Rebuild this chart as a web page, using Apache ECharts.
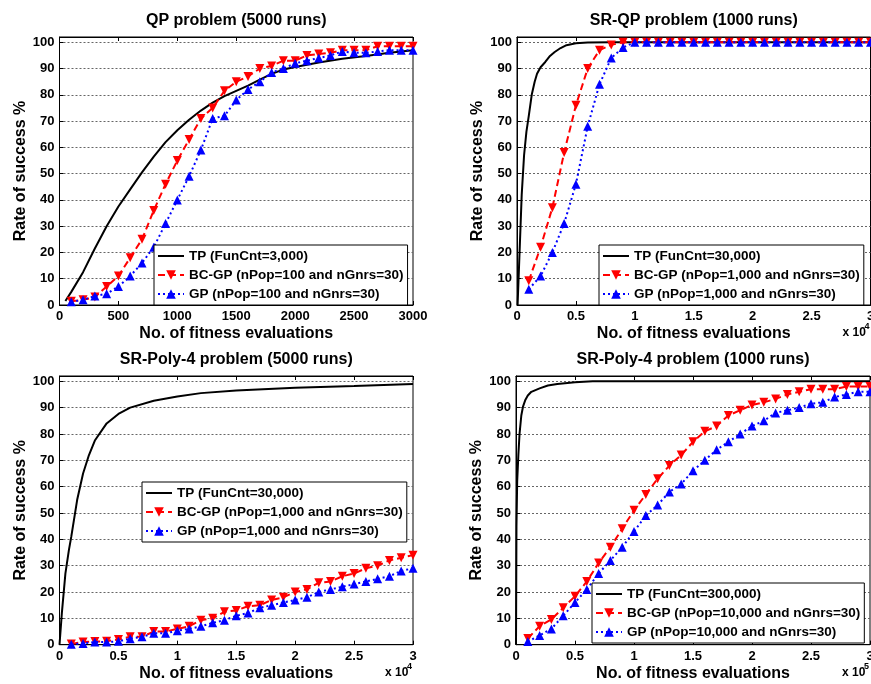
<!DOCTYPE html>
<html>
<head>
<meta charset="utf-8">
<script src="https://cdn.jsdelivr.net/npm/echarts@6/dist/echarts.min.js"></script>
<style>
html, body { margin: 0; padding: 0; background: #fff; }
#main { width: 871px; height: 684px; }
</style>
</head>
<body>
<div id="main"></div>
<script>
// ---- data ----
var titles = ['QP problem (5000 runs)', 'SR-QP problem (1000 runs)', 'SR-Poly-4 problem (5000 runs)', 'SR-Poly-4 problem (1000 runs)'];
var xName = 'No. of fitness evaluations';
var yName = 'Rate of success %';
var xScaleExp = [null, '4', '4', '5'];

var tpNames = ['TP (FunCnt=3,000)', 'TP (FunCnt=30,000)', 'TP (FunCnt=30,000)', 'TP (FunCnt=300,000)'];
var bcNames = ['BC-GP (nPop=100 and nGnrs=30)', 'BC-GP (nPop=1,000 and nGnrs=30)', 'BC-GP (nPop=1,000 and nGnrs=30)', 'BC-GP (nPop=10,000 and nGnrs=30)'];
var gpNames = ['GP (nPop=100 and nGnrs=30)', 'GP (nPop=1,000 and nGnrs=30)', 'GP (nPop=1,000 and nGnrs=30)', 'GP (nPop=10,000 and nGnrs=30)'];

// marker positions
var evalsQP = [100, 200, 300, 400, 500, 600, 700, 800, 900, 1000, 1100, 1200, 1300, 1400, 1500,
               1600, 1700, 1800, 1900, 2000, 2100, 2200, 2300, 2400, 2500, 2600, 2700, 2800, 2900, 3000];
var evalsScaled = [0.1, 0.2, 0.3, 0.4, 0.5, 0.6, 0.7, 0.8, 0.9, 1.0, 1.1, 1.2, 1.3, 1.4, 1.5,
                   1.6, 1.7, 1.8, 1.9, 2.0, 2.1, 2.2, 2.3, 2.4, 2.5, 2.6, 2.7, 2.8, 2.9, 3.0];

// QP problem
var tp1X = [50, 100, 200, 300, 400, 500, 600, 700, 800, 900, 1000, 1100, 1200, 1300, 1400, 1500, 1600, 1700, 1800, 1900, 2000, 2200, 2400, 2600, 2800, 3000];
var tp1Y = [1.5, 5, 12.5, 21.5, 30, 37.5, 44, 50.5, 56.5, 62, 66.5, 70.5, 74, 77, 79.5, 81.5, 83.5, 85.8, 88, 89.6, 90.6, 92.3, 93.7, 94.8, 96, 97];
var bc1 = [1.4, 2, 3, 7, 11, 18, 25, 36, 46, 55, 63, 71, 75, 81.5, 85, 87, 90, 91, 93, 93, 95, 95.5, 96, 97, 97, 97, 98.5, 98.5, 98.5, 98.5];
var gp1 = [1.2, 2, 3.4, 4.3, 7, 11, 16, 22, 31, 40, 49, 59, 71, 72, 78, 82, 85, 88.5, 90, 92, 93, 94, 95, 96.5, 96, 96, 96.5, 97, 97, 97];

// SR-QP problem (x 10^4)
var tp2X = [0.005, 0.02, 0.04, 0.06, 0.08, 0.1, 0.125, 0.15, 0.17, 0.2, 0.24, 0.28, 0.32, 0.37, 0.42, 0.5, 0.6, 0.8, 3];
var tp2Y = [0, 18, 42, 57, 66, 72, 80, 85, 88, 90.5, 92.5, 94.8, 96.3, 97.8, 98.9, 99.6, 99.9, 100, 100];
var bc2 = [9.2, 22, 37, 58, 76, 90, 97, 99, 100, 100, 100, 100, 100, 100, 100,
           100, 100, 100, 100, 100, 100, 100, 100, 100, 100, 100, 100, 100, 100, 100];
var gp2 = [6, 11, 20, 31, 46, 68, 84, 94, 98, 100, 100, 100, 100, 100, 100,
           100, 100, 100, 100, 100, 100, 100, 100, 100, 100, 100, 100, 100, 100, 100];

// SR-Poly-4 problem, 5000 runs (x 10^4)
var tp3X = [0, 0.02, 0.05, 0.08, 0.1, 0.15, 0.2, 0.25, 0.3, 0.4, 0.5, 0.6, 0.8, 1.0, 1.2, 1.5, 2.0, 2.5, 3.0];
var tp3Y = [0, 12, 27, 36, 41, 55, 65, 72, 77.5, 84, 87.6, 90, 92.6, 94.2, 95.5, 96.5, 97.5, 98.2, 99];
var bc3 = [0.3, 1, 1.2, 1.3, 2, 3, 3, 5, 5, 6, 7, 9.3, 10, 12.5, 13, 14.6, 15, 17, 18, 20,
           21, 23.5, 24, 26, 27, 29, 30, 32, 33, 34];
var gp3 = [0.2, 0.5, 1, 1, 1.3, 2.3, 3, 4.3, 4.3, 5.3, 6, 7, 8.3, 9.3, 11, 12, 14, 15, 16, 17,
           18, 20, 21, 22, 23, 24, 25, 26, 28, 29];

// SR-Poly-4 problem, 1000 runs (x 10^5)
var tp4X = [0, 0.004, 0.01, 0.02, 0.03, 0.045, 0.06, 0.08, 0.1, 0.13, 0.2, 0.27, 0.35, 0.5, 0.65, 3];
var tp4Y = [0, 45, 62, 72, 80, 87, 90.5, 93, 94.6, 96, 97.3, 98.4, 99, 99.6, 100, 100];
var bc4 = [2.4, 7, 9.6, 14, 18.4, 24, 31, 37, 44, 51, 57, 63, 68, 72, 77, 81, 83, 87, 89, 91,
           92, 93.3, 95, 96, 97, 97, 97, 98, 98, 98];
var gp4 = [1.2, 3.5, 6, 11, 16, 21, 27, 32, 37, 43, 49, 53, 58, 61, 66, 70, 74, 77, 80, 83,
           85, 88, 89, 90, 91.5, 92, 94, 95, 96, 96];

var tpX = [tp1X, tp2X, tp3X, tp4X];
var tpY = [tp1Y, tp2Y, tp3Y, tp4Y];
var bcY = [bc1, bc2, bc3, bc4];
var gpY = [gp1, gp2, gp3, gp4];
var markX = [evalsQP, evalsScaled, evalsScaled, evalsScaled];

// ---- layout ----
var FONT = '"Liberation Sans", Arial, sans-serif';
var grids = [
    { left: 59.5, top: 37, width: 353.5, height: 268 },
    { left: 517, top: 37, width: 353.5, height: 268 },
    { left: 59.5, top: 376, width: 353.5, height: 268.7 },
    { left: 516, top: 376, width: 354, height: 268.7 }
];
var xRanges = [[0, 3000, 500], [0, 3, 0.5], [0, 3, 0.5], [0, 3, 0.5]];
var legendPos = [[154, 245], [599, 245], [142, 482], [592, 583]];

function pairs(xs, ys) {
    return xs.map(function (x, i) { return [x, ys[i]]; });
}

var option = {
    backgroundColor: '#fff',
    animation: false,
    title: [],
    grid: [],
    xAxis: [],
    yAxis: [],
    legend: [],
    series: [],
    graphic: []
};

grids.forEach(function (g, i) {
    option.grid.push({
        left: g.left, top: g.top, width: g.width, height: g.height,
        show: true, borderColor: '#000', borderWidth: 1, backgroundColor: '#fff',
        containLabel: false, outerBoundsMode: 'none'
    });
    option.title.push({
        text: titles[i],
        left: g.left + g.width / 2,
        top: g.top - 24,
        textAlign: 'center',
        padding: 0,
        textStyle: { fontFamily: FONT, fontSize: 16, fontWeight: 'bold', color: '#000' }
    });
    var r = xRanges[i];
    option.xAxis.push({
        type: 'value', gridIndex: i, position: 'bottom',
        min: r[0], max: r[1], interval: r[2],
        name: xName, nameLocation: 'middle', nameGap: 21,
        nameTextStyle: { fontFamily: FONT, fontSize: 16, fontWeight: 'bold', color: '#000' },
        axisLine: { show: true, lineStyle: { color: '#000', width: 1 } },
        axisTick: { show: true, inside: true, length: 4, lineStyle: { color: '#000' } },
        axisLabel: {
            margin: 5, fontFamily: FONT, fontSize: 13, fontWeight: 'bold', color: '#000',
            formatter: function (v) { return String(v); }
        },
        splitLine: { show: false }
    });
    option.xAxis.push({
        type: 'value', gridIndex: i, position: 'top',
        min: r[0], max: r[1], interval: r[2],
        axisLine: { show: true, lineStyle: { color: '#000', width: 1 } },
        axisTick: { show: true, inside: true, length: 4, lineStyle: { color: '#000' } },
        axisLabel: { show: false },
        splitLine: { show: false }
    });
    option.yAxis.push({
        type: 'value', gridIndex: i,
        min: 0, max: 102, interval: 10,
        name: yName, nameLocation: 'middle', nameGap: 31,
        nameTextStyle: { fontFamily: FONT, fontSize: 16, fontWeight: 'bold', color: '#000' },
        axisLine: { show: true, lineStyle: { color: '#000', width: 1 } },
        axisTick: { show: true, inside: true, length: 4, lineStyle: { color: '#000' } },
        axisLabel: {
            margin: 5, fontFamily: FONT, fontSize: 13, fontWeight: 'bold', color: '#000',
            formatter: function (v) { return v > 100 ? '' : String(v); }
        },
        splitLine: { show: true, lineStyle: { color: '#666', width: 1, type: [2, 2] } }
    });

    option.series.push({
        name: tpNames[i], type: 'line', xAxisIndex: i * 2, yAxisIndex: i,
        data: pairs(tpX[i], tpY[i]),
        symbol: 'none',
        lineStyle: { color: '#000', width: 2 }, itemStyle: { color: '#000' }, z: 3
    });
    option.series.push({
        name: bcNames[i], type: 'line', xAxisIndex: i * 2, yAxisIndex: i,
        data: pairs(markX[i], bcY[i]),
        symbol: 'triangle', symbolRotate: 180, symbolSize: 9, showAllSymbol: true,
        lineStyle: { color: '#ff0000', width: 2, type: [7, 4] }, itemStyle: { color: '#ff0000' }, z: 4
    });
    option.series.push({
        name: gpNames[i], type: 'line', xAxisIndex: i * 2, yAxisIndex: i,
        data: pairs(markX[i], gpY[i]),
        symbol: 'triangle', symbolSize: 9, showAllSymbol: true,
        lineStyle: { color: '#0000ff', width: 2, type: [2, 3] }, itemStyle: { color: '#0000ff' }, z: 5
    });

    option.legend.push({
        orient: 'vertical', left: legendPos[i][0], top: legendPos[i][1],
        data: [
            { name: tpNames[i], itemStyle: { opacity: 0 } },
            bcNames[i],
            gpNames[i]
        ],
        selectedMode: false,
        backgroundColor: '#fff', borderColor: '#000', borderWidth: 1, borderRadius: 0,
        padding: [4, 4, 4, 3], itemWidth: 26, itemHeight: 12, itemGap: 5,
        textStyle: { fontFamily: FONT, fontSize: 13.5, fontWeight: 'bold', color: '#000' },
        z: 10
    });

    if (xScaleExp[i]) {
        var bx = g.left + g.width - 28;
        var by = g.top + g.height + 22;
        option.graphic.push({
            type: 'text', left: bx, top: by, z: 20,
            style: { text: 'x 10', font: 'bold 12px ' + FONT, fill: '#000' }
        });
        option.graphic.push({
            type: 'text', left: bx + 22, top: by - 5, z: 20,
            style: { text: xScaleExp[i], font: 'bold 9px ' + FONT, fill: '#000' }
        });
    }
});

var chart = echarts.init(document.getElementById('main'));
chart.setOption(option);
</script>
</body>
</html>
